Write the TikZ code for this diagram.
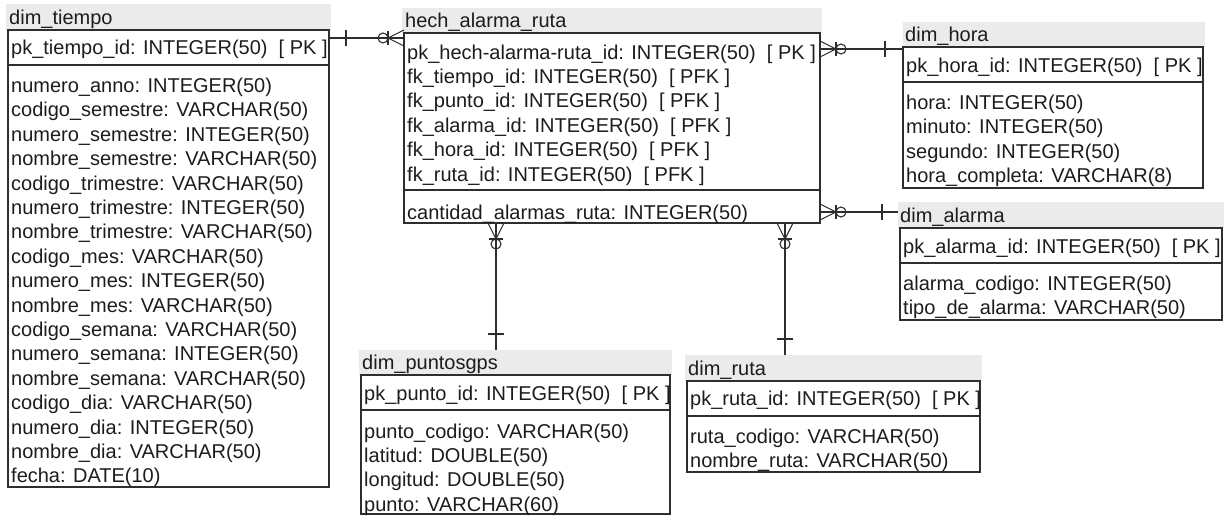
\documentclass[tikz,border=0pt]{standalone}
\usepackage{fontspec}
\setmainfont{Liberation Sans}
\definecolor{hdr}{HTML}{EBEBEB}
\definecolor{ln}{HTML}{2E2E2E}
\definecolor{tx}{HTML}{1C1C1C}
\tikzset{
  band/.style={fill=hdr, draw=none, inner sep=0pt, outer sep=0pt, anchor=south west},
  tbox/.style={draw=ln, line width=1.4pt, inner sep=0pt, outer sep=0pt, anchor=north west},
  sepline/.style={draw=ln, line width=1.4pt},
  lbl/.style={anchor=base west, inner sep=0pt, text=tx, font=\fontsize{20}{24}\selectfont},
  rel/.style={draw=ln, line width=1.1pt},
  pics/crowfoot/.style={code={
    \draw[rel] (-16,0) -- (0,8) (-16,0) -- (0,0) (-16,0) -- (0,-8);
    \draw[rel] (-16,7) -- (-16,-7);
    \draw[rel] (-21,0) circle (5);
  }},
  pics/onebar/.style={code={\draw[rel] (0,8) -- (0,-8);}}
}
\newcommand\fieldrows[4]{% #1 prefix, #2 x, #3 first baseline, #4 list
  \foreach \t [count=\i from 0] in {#4} {\node[lbl] (#1\i) at (#2, #3+\i*24.4) {\t};}
}
\begin{document}
\begin{tikzpicture}[x=1pt,y=-1pt]
\useasboundingbox (0,0) rectangle (1226,517);

% ---------- dim_tiempo ----------
\node[band, minimum width=325pt, minimum height=26pt] (tiempoH) at (6,30) {};
\node[lbl] (tiempoT) at (9,24) {dim\_tiempo};
\node[tbox, minimum width=321pt, minimum height=457pt] (tiempo) at (8,30) {};
\draw[sepline] (8,65) -- (329,65);
\node[lbl] (tiempoPK) at (11,54.5) {pk\_tiempo\_id: INTEGER(50)\ \ [ PK ]};
\fieldrows{tf}{11}{92.5}{numero\_anno: INTEGER(50),codigo\_semestre: VARCHAR(50),numero\_semestre: INTEGER(50),nombre\_semestre: VARCHAR(50),codigo\_trimestre: VARCHAR(50),numero\_trimestre: INTEGER(50),nombre\_trimestre: VARCHAR(50),codigo\_mes: VARCHAR(50),numero\_mes: INTEGER(50),nombre\_mes: VARCHAR(50),codigo\_semana: VARCHAR(50),numero\_semana: INTEGER(50),nombre\_semana: VARCHAR(50),codigo\_dia: VARCHAR(50),numero\_dia: INTEGER(50),nombre\_dia: VARCHAR(50),fecha: DATE(10)}

% ---------- hech_alarma_ruta ----------
\node[band, minimum width=420pt, minimum height=25pt] (hechH) at (402,33) {};
\node[lbl] (hechT) at (405,27) {hech\_alarma\_ruta};
\node[tbox, minimum width=416pt, minimum height=190pt] (hech) at (404,33) {};
\draw[sepline] (404,190) -- (820,190);
\fieldrows{hf}{407}{59}{pk\_hech-alarma-ruta\_id: INTEGER(50)\ \ [ PK ],fk\_tiempo\_id: INTEGER(50)\ \ [ PFK ],fk\_punto\_id: INTEGER(50)\ \ [ PFK ],fk\_alarma\_id: INTEGER(50)\ \ [ PFK ],fk\_hora\_id: INTEGER(50)\ \ [ PFK ],fk\_ruta\_id: INTEGER(50)\ \ [ PFK ]}
\node[lbl] (hechC) at (407,219) {cantidad\_alarmas\_ruta: INTEGER(50)};

% ---------- dim_hora ----------
\node[band, minimum width=302pt, minimum height=25pt] (horaH) at (903,47) {};
\node[lbl] (horaT) at (905,41) {dim\_hora};
\node[tbox, minimum width=300pt, minimum height=141pt] (hora) at (903,47) {};
\draw[sepline] (903,82) -- (1203,82);
\node[lbl] (horaPK) at (906,72) {pk\_hora\_id: INTEGER(50)\ \ [ PK ]};
\fieldrows{of}{906}{109.5}{hora: INTEGER(50),minuto: INTEGER(50),segundo: INTEGER(50),hora\_completa: VARCHAR(8)}

% ---------- dim_alarma ----------
\node[band, minimum width=326pt, minimum height=26pt] (alarmaH) at (898,228) {};
\node[lbl] (alarmaT) at (900,222) {dim\_alarma};
\node[tbox, minimum width=322pt, minimum height=92pt] (alarma) at (900,228) {};
\draw[sepline] (900,263) -- (1222,263);
\node[lbl] (alarmaPK) at (903,253) {pk\_alarma\_id: INTEGER(50)\ \ [ PK ]};
\fieldrows{af}{903}{290.5}{alarma\_codigo: INTEGER(50),tipo\_de\_alarma: VARCHAR(50)}

% ---------- dim_puntosgps ----------
\node[band, minimum width=313pt, minimum height=25pt] (puntosH) at (359,375) {};
\node[lbl] (puntosT) at (362,369) {dim\_puntosgps};
\node[tbox, minimum width=309pt, minimum height=139pt] (puntos) at (361,375) {};
\draw[sepline] (361,410) -- (670,410);
\node[lbl] (puntosPK) at (364,400) {pk\_punto\_id: INTEGER(50)\ \ [ PK ]};
\fieldrows{pf}{364}{438}{punto\_codigo: VARCHAR(50),latitud: DOUBLE(50),longitud: DOUBLE(50),punto: VARCHAR(60)}

% ---------- dim_ruta ----------
\node[band, minimum width=297pt, minimum height=26pt] (rutaH) at (685,381) {};
\node[lbl] (rutaT) at (688,375) {dim\_ruta};
\node[tbox, minimum width=293pt, minimum height=91pt] (ruta) at (687,381) {};
\draw[sepline] (687,416) -- (980,416);
\node[lbl] (rutaPK) at (690,405.5) {pk\_ruta\_id: INTEGER(50)\ \ [ PK ]};
\fieldrows{rf}{690}{443.5}{ruta\_codigo: VARCHAR(50),nombre\_ruta: VARCHAR(50)}

% ---------- relationships ----------
% tiempo -- hech
\draw[rel] ([yshift=-8pt]tiempo.north east) -- ([yshift=-5pt]hech.north west);
\pic at ([xshift=17pt,yshift=-8pt]tiempo.north east) {onebar};
\pic at ([yshift=-5pt]hech.north west) {crowfoot};
% hech -- hora
\draw[rel] ([yshift=-16pt]hech.north east) -- ([yshift=-2pt]hora.north west);
\pic[rotate=180] at ([yshift=-16pt]hech.north east) {crowfoot};
\pic at ([xshift=-18pt,yshift=-2pt]hora.north west) {onebar};
% hech -- alarma
\draw[rel] ([yshift=11pt]hech.south east) -- ([yshift=3pt]alarmaH.west);
\pic[rotate=180] at ([yshift=11pt]hech.south east) {crowfoot};
\pic at ([xshift=-16pt,yshift=3pt]alarmaH.west) {onebar};
% hech -- puntos
\draw[rel] ([xshift=92pt]hech.south west) -- ([xshift=137pt]puntosH.north west);
\pic[rotate=90] at ([xshift=92pt]hech.south west) {crowfoot};
\pic[rotate=90] at ([xshift=137pt,yshift=16pt]puntosH.north west) {onebar};
% hech -- ruta
\draw[rel] ([xshift=381pt]hech.south west) -- ([xshift=100pt]rutaH.north west);
\pic[rotate=90] at ([xshift=381pt]hech.south west) {crowfoot};
\pic[rotate=90] at ([xshift=100pt,yshift=16pt]rutaH.north west) {onebar};
\end{tikzpicture}
\end{document}
